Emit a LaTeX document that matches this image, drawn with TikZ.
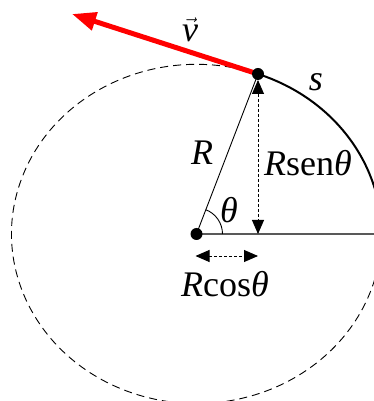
\documentclass[tikz,border=0pt]{standalone}
\usepackage{fontspec}
\setmainfont{Liberation Serif}
\usetikzlibrary{arrows.meta}
\begin{document}
\begin{tikzpicture}[x=1pt,y=1pt,
  lbl/.style={font=\fontsize{36}{40}\selectfont, inner sep=0pt},
  dotarrow/.style={densely dashed, line width=0.9pt, {Triangle[length=14pt,width=12pt]}-{Triangle[length=14pt,width=12pt]}},
  dotblob/.style={circle, fill=black, inner sep=0pt, minimum size=12pt}]
\useasboundingbox (-196.5,-167) rectangle (177.5,234);
\clip (-196.5,-167) rectangle (177.5,234);
\coordinate (O) at (0,0);
\coordinate (P) at (61.5,160);
\coordinate (F) at (61.5,0);
\coordinate (E) at (190,0);
\coordinate (T) at (-124.5,220);
\coordinate (CL) at (-1,-22);
\coordinate (CR) at (61.5,-22);
% dashed circle
\draw[dashed, dash pattern=on 8pt off 5pt, line width=0.9pt] (P) arc[start angle=70.58, end angle=360, x radius=185, y radius=169.6];
% solid arc
\draw[line width=2pt] (P) arc[start angle=70.58, end angle=-10, x radius=185, y radius=169.6];
% horizontal line
\draw[line width=1.3pt, black!65] (O) -- (E);
% radius
\draw[line width=0.9pt] (O) -- (P);
% angle arc
\draw[line width=0.9pt] (26,0) arc[start angle=0, end angle=69, radius=26];
% vertical dotted arrow
\draw[dotarrow, shorten <=6pt] (P) -- (F);
% horizontal dotted arrow
\draw[dotarrow] (CL) -- (CR);
% red arrow
\draw[red, line width=5pt, -{Triangle[length=24pt,width=18pt]}] (P) -- (T);
% dots
\node[dotblob] (Pd) at (P) {};
\node[dotblob] (Od) at (O) {};
% labels
\node[lbl] (lv) at (-6.5,204) {$\vec{\textit{v}}$};
\node[lbl] (ls) at (119.5,152) {\textit{s}};
\node[lbl] (lR) at (5.5,81) {\textit{R}};
\node[lbl] (lRs) at (111.5,71) {\textit{R}sen\textit{θ}};
\node[lbl] (lth) at (32.5,24) {\textit{θ}};
\node[lbl] (lRc) at (28.5,-50) {\textit{R}cos\textit{θ}};
\end{tikzpicture}
\end{document}
